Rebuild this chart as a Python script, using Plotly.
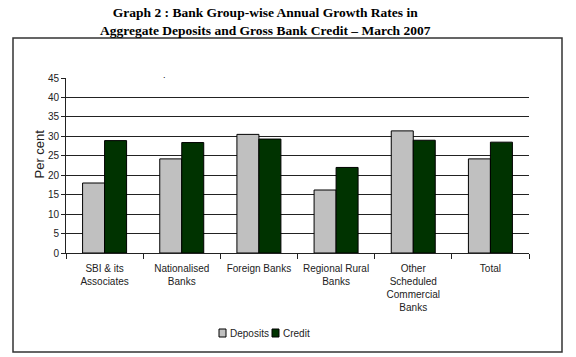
import plotly.graph_objects as go

categories = ["SBI & its<br>Associates", "Nationalised<br>Banks", "Foreign Banks",
              "Regional Rural<br>Banks", "Other<br>Scheduled<br>Commercial<br>Banks", "Total"]
deposits = [18.0, 24.2, 30.5, 16.2, 31.4, 24.2]
credit = [28.9, 28.4, 29.3, 22.0, 29.0, 28.5]
y_ticks = [0, 5, 10, 15, 20, 25, 30, 35, 40, 45]
series_names = ["Deposits", "Credit"]
series_colors = ["#C0C0C0", "#003300"]

W, H = 576, 357
L, R, T, B = 66, 529, 78, 253


def px(x):
    return (x - L) / (R - L)


def py(y):
    return (B - y) / (B - T)


fig = go.Figure()
for name, vals, col in zip(series_names, [deposits, credit], series_colors):
    fig.add_trace(go.Bar(x=categories, y=vals, name=name,
                         marker=dict(color=col, line=dict(color="#000000", width=1))))

fig.update_layout(
    width=W, height=H,
    margin=dict(l=L, r=W - R, t=T, b=H - B, pad=0, autoexpand=False),
    paper_bgcolor="white", plot_bgcolor="white",
    barmode="group", bargap=0.43, bargroupgap=0,
    font=dict(family="Liberation Sans, Arial", size=10, color="#222"),
    showlegend=False,
)
fig.update_xaxes(type="category", showline=True, linecolor="#222", linewidth=1,
                 ticks="outside", tickson="boundaries", ticklen=5, tickcolor="#222",
                 ticklabelstandoff=6,
                 showgrid=False, tickfont=dict(size=10, color="#222"))
fig.update_yaxes(range=[0, 45], tickvals=y_ticks, showline=True, linecolor="#222", linewidth=1,
                 ticks="outside", ticklen=4, tickcolor="#222",
                 showgrid=True, gridcolor="#222", gridwidth=1, zeroline=False,
                 tickfont=dict(size=10, color="#222"))

# legend (compact, Excel-style)
legend_sq_x = [219, 272]
for name, col, sx in zip(series_names, series_colors, legend_sq_x):
    fig.add_shape(type="rect", xref="paper", yref="paper",
                  x0=px(sx), x1=px(sx + 7), y0=py(337), y1=py(329),
                  line=dict(color="#000", width=1), fillcolor=col)
    fig.add_annotation(text=name, x=px(sx + 9), y=py(333), xref="paper", yref="paper",
                       xanchor="left", yanchor="middle", showarrow=False,
                       font=dict(size=10, color="#222"))

fig.add_annotation(text="Per cent", textangle=-90, x=px(29), y=py(154), xref="paper", yref="paper",
                   showarrow=False, font=dict(size=13, color="#222"))
fig.add_annotation(text="<b>Graph 2 : Bank Group-wise Annual Growth Rates in<br>"
                        "Aggregate Deposits and Gross Bank Credit \u2013 March 2007</b>",
                   x=px(265), y=py(22), xref="paper", yref="paper", xanchor="center",
                   yanchor="middle", showarrow=False,
                   font=dict(family="Liberation Serif, Times New Roman", size=13.5, color="#000"))
fig.add_annotation(text=".", x=px(161), y=py(68), xref="paper", yref="paper",
                   showarrow=False, font=dict(size=9, color="#000"))
fig.add_shape(type="rect", xref="paper", yref="paper",
              x0=px(13), x1=px(562), y0=py(352), y1=py(38),
              line=dict(color="#333", width=1.5), fillcolor="rgba(0,0,0,0)", layer="below")

fig.write_html("out.html", config={"displayModeBar": False},
               post_script="document.body.style.margin='0';")
